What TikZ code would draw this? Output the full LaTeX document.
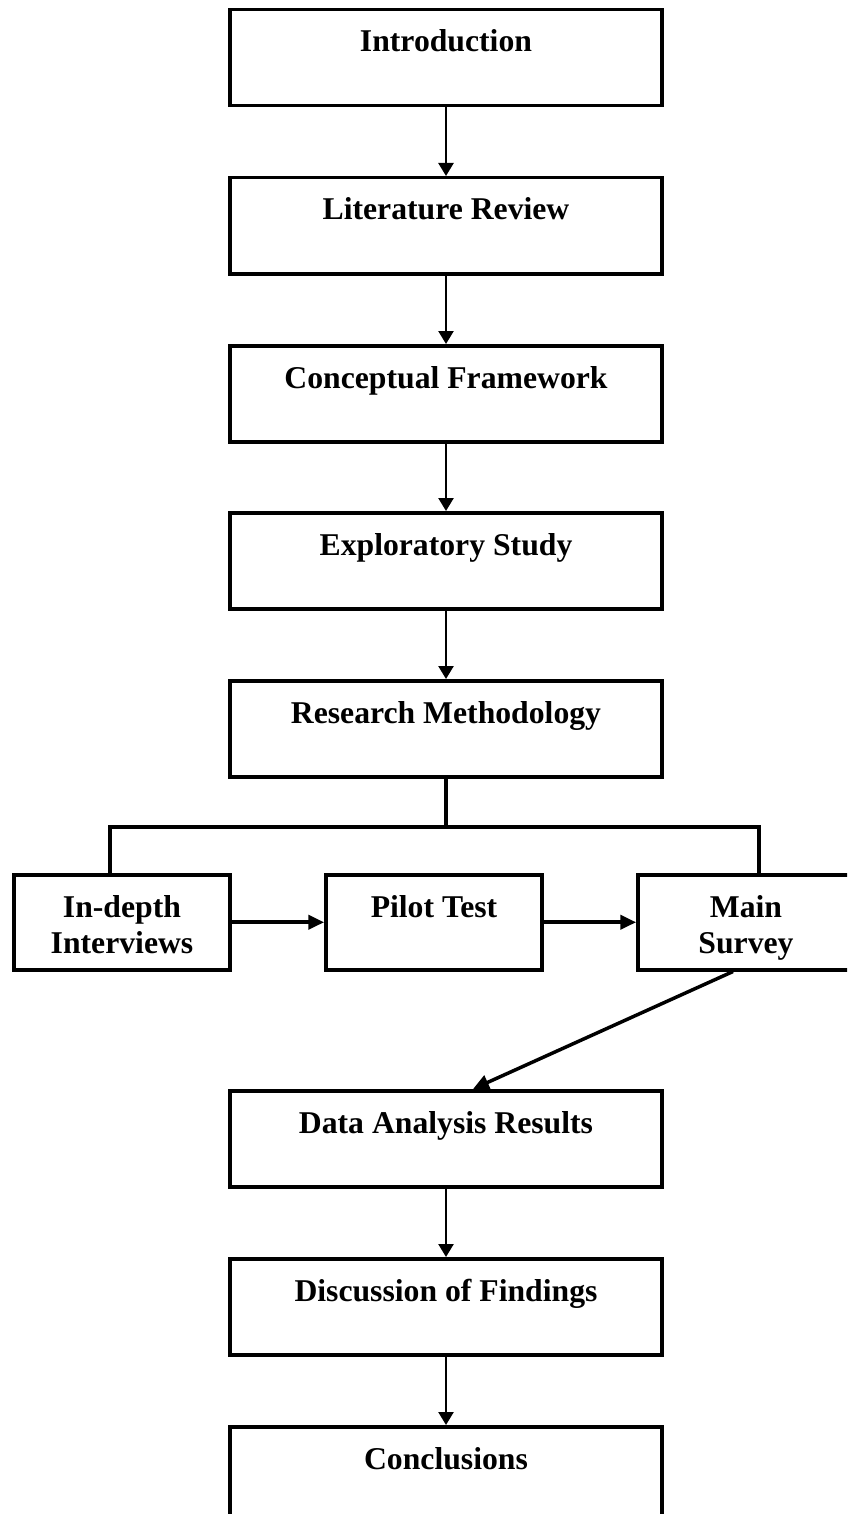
\documentclass[tikz,border=0pt]{standalone}
\usepackage{fontspec}
\setmainfont{Liberation Serif}
\usetikzlibrary{arrows.meta}
\begin{document}
\begin{tikzpicture}[x=1pt,y=-1pt,
  stage/.style={draw=black, line width=3.5pt, inner sep=0pt, outer sep=1.75pt, anchor=north},
  mainstage/.style={stage, minimum width=432pt, minimum height=96pt},
  substage/.style={stage, minimum width=216pt, minimum height=95pt},
  lbl/.style={font=\fontsize{31.7}{36}\selectfont\bfseries, inner sep=0pt, anchor=base},
  flow/.style={line width=2.5pt, -{Triangle[length=13pt,width=15pt]}},
  side/.style={line width=4pt, -{Triangle[length=16pt,width=14pt]}},
  slant/.style={line width=3.5pt, -{Triangle[length=16pt,width=15pt]}},
  branch/.style={line width=3.5pt, line join=miter}]
\useasboundingbox (0,0) rectangle (847,1514);
\clip (0,0) rectangle (847,1514);

% main column of stages
\node[mainstage] (intro)   at (446,8)    {};
\node[mainstage] (lit)     at (446,176)  {};
\node[mainstage] (concept) at (446,344)  {};
\node[mainstage] (explor)  at (446,511)  {};
\node[mainstage] (method)  at (446,679)  {};
\node[mainstage] (data)    at (446,1089) {};
\node[mainstage] (disc)    at (446,1257) {};
\node[mainstage] (concl)   at (446,1425) {};

\node[lbl] (intro-t)   at (446,52)   {Introduction};
\node[lbl] (lit-t)     at (446,220)  {Literature Review};
\node[lbl] (concept-t) at (446,388)  {Conceptual Framework};
\node[lbl] (explor-t)  at (446,555)  {Exploratory Study};
\node[lbl] (method-t)  at (446,723)  {Research Methodology};
\node[lbl] (data-t)    at (446,1133) {Data Analysis Results};
\node[lbl] (disc-t)    at (446,1301) {Discussion of Findings};
\node[lbl] (concl-t)   at (446,1469) {Conclusions};

% research methods row
\node[substage] (interviews) at (122,873) {};
\node[substage] (pilot)      at (434,873) {};
\node[substage] (survey)     at (746,873) {};

\node[lbl] (interviews-t) at (122,917) {\begin{tabular}[t]{@{}c@{}}In-depth\\Interviews\end{tabular}};
\node[lbl] (pilot-t)      at (434,917) {Pilot Test};
\node[lbl] (survey-t)     at (746,917) {\begin{tabular}[t]{@{}c@{}}Main\\Survey\end{tabular}};

% connectors
\draw[flow] (intro) -- (lit);
\draw[flow] (lit) -- (concept);
\draw[flow] (concept) -- (explor);
\draw[flow] (explor) -- (method);

\coordinate (bj) at (446,827);
\coordinate (bl) at (110,827);
\coordinate (br) at (759,827);
\draw[branch] (method.south) -- (bj);
\draw[branch] (bl |- interviews.north) -- (bl) -- (br) -- (br |- survey.north);

\draw[side] (interviews) -- (pilot);
\draw[side] (pilot) -- (survey);

\draw[slant] ([xshift=-13pt]survey.south) -- ([xshift=27pt]data.north);

\draw[flow] (data) -- (disc);
\draw[flow] (disc) -- (concl);
\end{tikzpicture}
\end{document}
